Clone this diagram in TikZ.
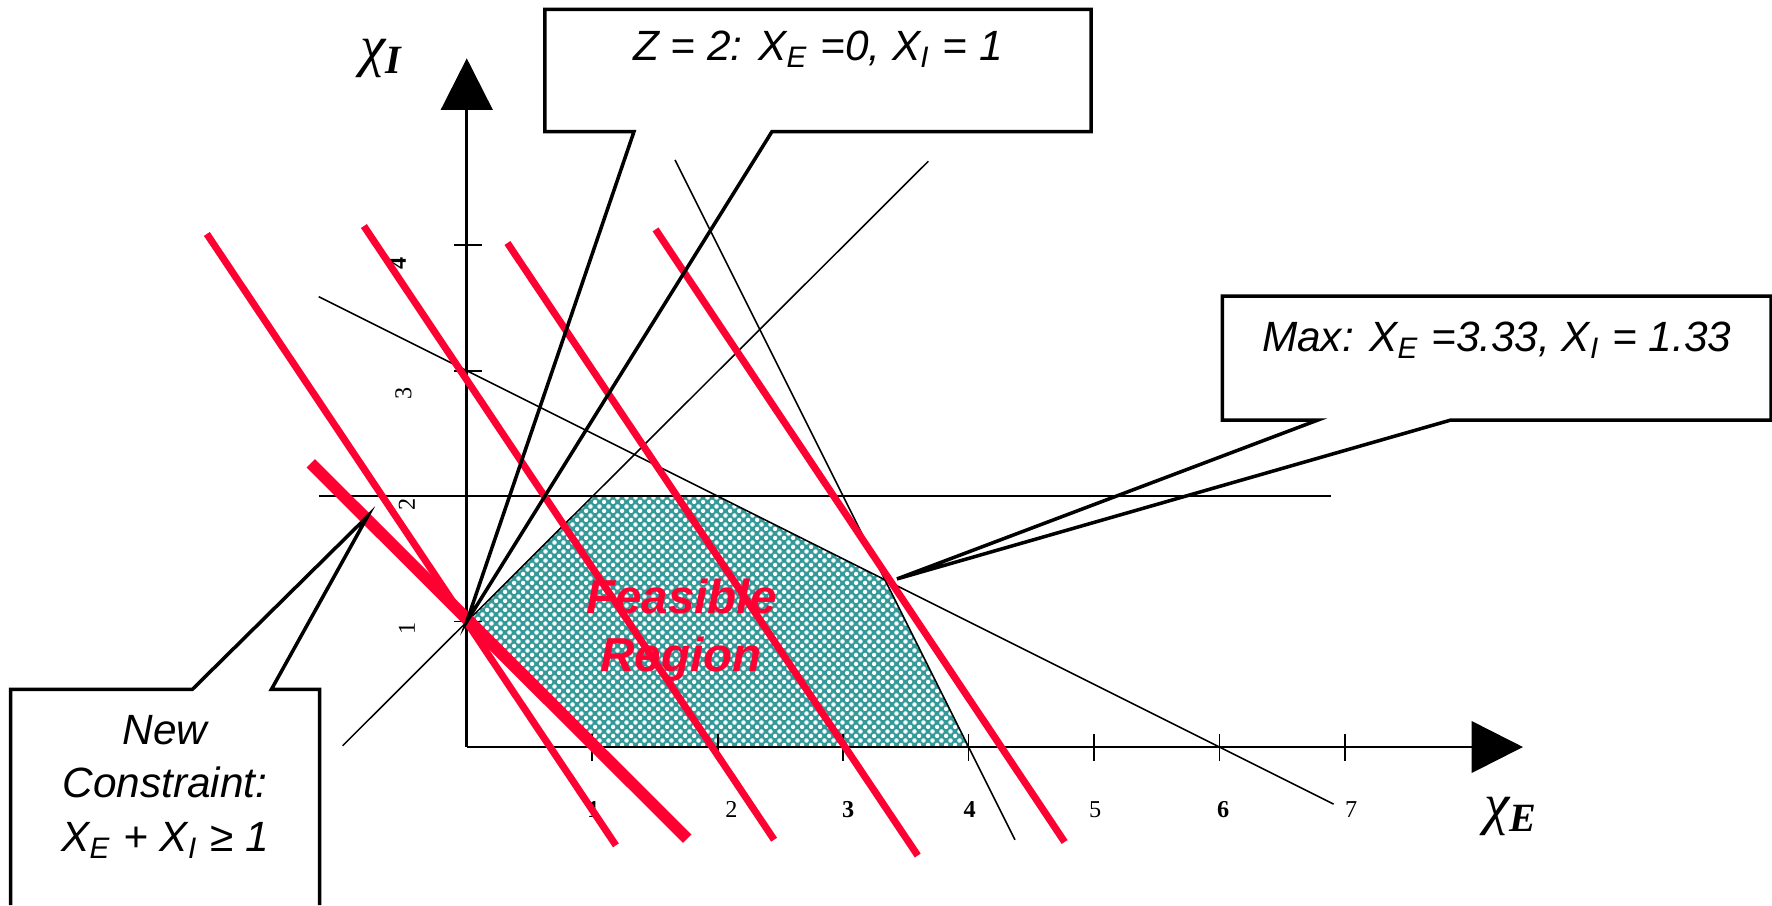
\documentclass[tikz,border=0pt]{standalone}
\usepackage{fontspec}
\setmainfont{Liberation Serif}
\setsansfont{Liberation Sans}
\usepackage{xcolor}
\usepackage{tikz}
\usetikzlibrary{arrows.meta,patterns,calc}
\definecolor{ObjRed}{HTML}{FF0033}
\definecolor{RegionTeal}{HTML}{339999}
\pgfdeclarepatternformonly{regionplus}{\pgfpointorigin}{\pgfpoint{2pt}{2pt}}{\pgfpoint{2pt}{2pt}}{%
  \pgfsetlinewidth{0.55pt}
  \pgfpathmoveto{\pgfpoint{0.02pt}{0.5pt}}\pgfpathlineto{\pgfpoint{0.98pt}{0.5pt}}
  \pgfpathmoveto{\pgfpoint{0.5pt}{0.02pt}}\pgfpathlineto{\pgfpoint{0.5pt}{0.98pt}}
  \pgfpathmoveto{\pgfpoint{1.02pt}{1.5pt}}\pgfpathlineto{\pgfpoint{1.98pt}{1.5pt}}
  \pgfpathmoveto{\pgfpoint{1.5pt}{1.02pt}}\pgfpathlineto{\pgfpoint{1.5pt}{1.98pt}}
  \pgfusepath{stroke}}
\tikzset{
  calloutbox/.style={
    fill=white,
    inner xsep=0pt,
    inner ysep=0pt,
    align=center,
    font=\sffamily\itshape\fontsize{9.6}{12.2}\selectfont
  },
  callout/.style={line width=0.8pt, line join=miter}
}

\begin{document}
\begin{tikzpicture}[
  thinline/.style={line width=0.35pt},
  objline/.style={ObjRed, line width=1.6pt},
  newline/.style={ObjRed, line width=2.7pt},
  axis/.style={line width=0.6pt, -{Triangle[length=0.41cm, width=0.41cm]}},
  tickmark/.style={line width=0.4pt},
  ticklbl/.style={font=\fontsize{5.5}{6}\selectfont, inner sep=0pt},
  axislbl/.style={font=\itshape\fontsize{13}{15}\selectfont, inner sep=0pt},
  regionlbl/.style={ObjRed, font=\sffamily\bfseries\itshape\fontsize{10.8}{13.3}\selectfont,
    align=center, inner sep=0pt}
]
\useasboundingbox (-3.721,-1.261) rectangle (10.405,5.955);
\coordinate (pgbot) at (0,-1.261);
\coordinate (O) at (0,0);
\coordinate (zopt) at (0,1);
\coordinate (maxpt) at (3.43,1.34);
\coordinate (ncpt) at (-0.79,1.84);

% feasible region
\path[preaction={fill=RegionTeal}, pattern=regionplus, pattern color=white]
  (0,1) -- (1,2) -- (2,2) -- (10/3,4/3) -- (4,0) -- (1,0) -- cycle;

% constraint lines
\draw[thinline] (-1.18,2) -- (6.89,2);
\draw[thinline] (-1.18,3.59) -- (6.91,-0.455);
\draw[thinline] (-0.99,0.01) -- (3.68,4.67);
\draw[thinline] (1.66,4.68) -- (4.37,-0.74);

% axes
\draw[axis] (O) -- (8.42,0);
\draw[axis] (O) -- (0,5.49);
\foreach \i in {1,...,7} \draw[tickmark] (\i,-0.11) -- (\i,0.1);
\foreach \j in {1,...,4} \draw[tickmark] (-0.1,\j) -- (0.12,\j);
\foreach \xp/\t/\w in {1.01/1/\bfseries, 2.11/2/\mdseries, 3.04/3/\bfseries, 4.01/4/\bfseries,
                       5.01/5/\mdseries, 6.03/6/\bfseries, 7.05/7/\mdseries}
  \node[ticklbl] (xt\t) at (\xp,-0.5) {\w\t};
\foreach \xq/\yp/\t/\w in {-0.477/0.946/1/\mdseries, -0.477/1.937/2/\mdseries,
                           -0.505/2.82/3/\mdseries, -0.55/3.856/4/\bfseries}
  \node[ticklbl, rotate=90] (yt\t) at (\xq,\yp) {\w\t};
\node[axislbl] (xilbl) at (-0.676,5.486) {χ\textsubscript{\bfseries I}};
\node[axislbl] (xelbl) at (8.33,-0.55) {χ\textsubscript{\bfseries E}};

% objective lines Z = 2, 6, 9, max
\draw[objline] (-2.072,4.09) -- (1.189,-0.784);
\draw[objline] (-0.82,4.153) -- (2.45,-0.739);
\draw[objline] (0.324,4.018) -- (3.595,-0.865);
\draw[objline] (1.505,4.126) -- (4.766,-0.757);
% new constraint
\draw[newline] (-1.243,2.261) -- (1.757,-0.730);

\node[regionlbl] (region) at (1.71,0.93) {Feasible\\Region};

% Z = 2 callout -> (0,1)
\node[calloutbox, anchor=north, minimum width=4.34cm, text height=0.403cm, text depth=0.557cm]
  (zbox) at (2.80,5.88) {Z = 2: X\textsubscript{E} =0, X\textsubscript{I} = 1};
\coordinate (zb1) at ($(zbox.south west)+(0.71,0)$);
\coordinate (zb2) at ($(zbox.south west)+(1.81,0)$);
\draw[callout] (zb1) -- (zbox.south west) -- (zbox.north west) -- (zbox.north east)
  -- (zbox.south east) -- (zb2) -- (zopt) -- cycle;

% Max callout -> optimum vertex
\node[calloutbox, anchor=north, minimum width=4.36cm, text height=0.438cm, text depth=0.537cm]
  (maxbox) at (8.21,3.595) {Max: X\textsubscript{E} =3.33, X\textsubscript{I} = 1.33};
\coordinate (mb1) at ($(maxbox.south west)+(0.76,0)$);
\coordinate (mb2) at ($(maxbox.south west)+(1.82,0)$);
\draw[callout] (mb1) -- (maxbox.south west) -- (maxbox.north west) -- (maxbox.north east)
  -- (maxbox.south east) -- (mb2) -- (maxpt) -- cycle;

% New constraint callout -> red line
\node[calloutbox, anchor=north, minimum width=2.45cm, inner ysep=5.6pt]
  (ncbox) at (-2.405,0.46) {New\\Constraint:\\X\textsubscript{E} + X\textsubscript{I} ≥ 1};
\coordinate (nc1) at ($(ncbox.north west)+(1.45,0)$);
\coordinate (nc2) at ($(ncbox.north west)+(2.08,0)$);
\draw[callout] (ncbox.north west |- pgbot) -- (ncbox.north west) -- (nc1) -- (ncpt)
  -- (nc2) -- (ncbox.north east) -- (ncbox.north east |- pgbot);
\end{tikzpicture}
\end{document}
